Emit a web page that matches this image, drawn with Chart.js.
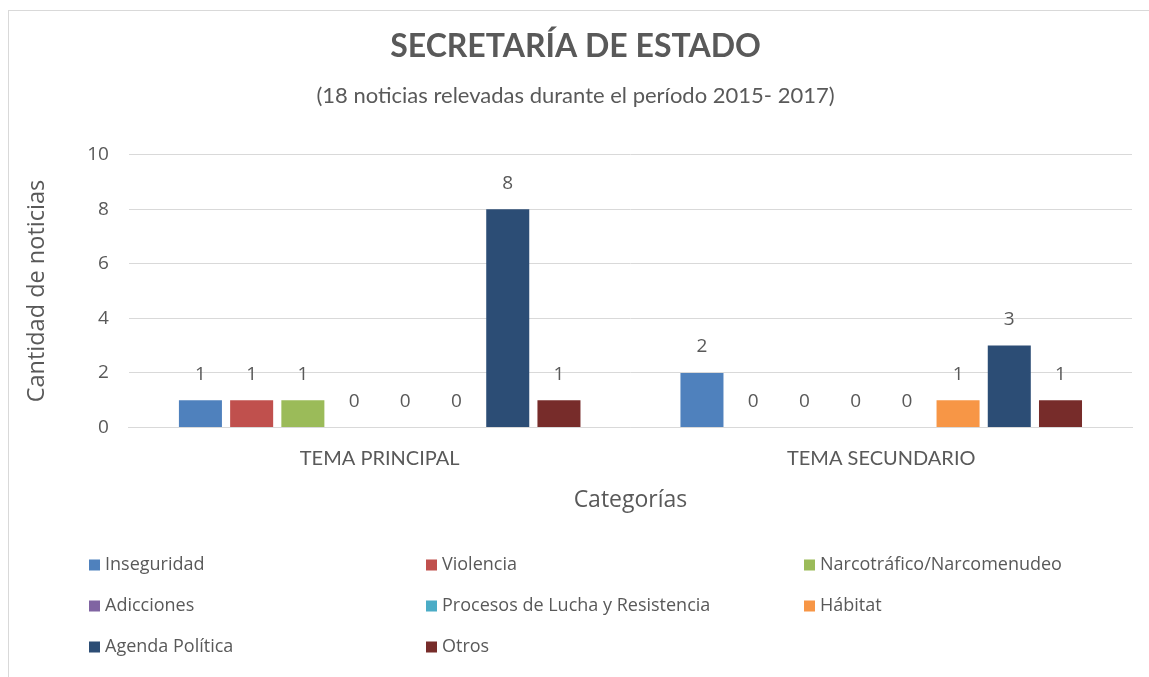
<!DOCTYPE html>
<html>
<head>
<meta charset="utf-8">
<script src="https://cdn.jsdelivr.net/npm/chart.js@4.4.1/dist/chart.umd.min.js"></script>
<style>
  html, body { margin: 0; padding: 0; background: #fff; overflow: hidden; }
  #frame { position: absolute; left: 8px; top: 10px; width: 1300px; height: 900px; border: 1px solid #D9D9D9; box-sizing: border-box; }
  #wrap { position: absolute; left: 0; top: 0; width: 1149px; height: 677px; }
</style>
</head>
<body>
<div id="frame"></div>
<div id="wrap"><canvas id="c" width="1149" height="677"></canvas></div>
<script>
const categories = ["TEMA PRINCIPAL", "TEMA SECUNDARIO"];
const seriesNames = ["Inseguridad", "Violencia", "Narcotráfico/Narcomenudeo", "Adicciones", "Procesos de Lucha y Resistencia", "Hábitat", "Agenda Política", "Otros"];
const inseguridad = [1, 2];
const violencia = [1, 0];
const narcotrafico = [1, 0];
const adicciones = [0, 0];
const procesos = [0, 0];
const habitat = [0, 1];
const agenda = [8, 3];
const otros = [1, 1];
const yTicks = [0, 2, 4, 6, 8, 10];
const titleText = "SECRETARÍA DE ESTADO";
const subtitleText = "(18 noticias relevadas durante el período 2015- 2017)";
const yTitle = "Cantidad de noticias";
const xTitle = "Categorías";

const colors = ["#4F81BD", "#C0504D", "#9BBB59", "#8064A2", "#4BACC6", "#F79646", "#2C4D75", "#772C2A"];
const values = [inseguridad, violencia, narcotrafico, adicciones, procesos, habitat, agenda, otros];
const TEXT = "#595959";
const FONT = "Lato, 'Open Sans', sans-serif";
const FONT2 = "'Open Sans', Lato, sans-serif";

const datasets = seriesNames.map((n, i) => ({
  label: n, data: values[i], backgroundColor: colors[i], borderWidth: 0,
  categoryPercentage: 0.817, barPercentage: 0.84
}));

const valueLabels = {
  id: 'valueLabels',
  afterDatasetsDraw(chart) {
    const ctx = chart.ctx;
    ctx.save();
    ctx.fillStyle = TEXT;
    ctx.font = "19px " + FONT2;
    ctx.textAlign = "center";
    ctx.textBaseline = "middle";
    chart.data.datasets.forEach((ds, di) => {
      const meta = chart.getDatasetMeta(di);
      meta.data.forEach((bar, i) => {
        ctx.fillText(String(ds.data[i]), bar.x, bar.y - 26);
      });
    });
    ctx.restore();
  }
};

const gridLegend = {
  id: 'gridLegend',
  afterDraw(chart) {
    const ctx = chart.ctx;
    const cols = [89, 426, 804];
    const rows = [565, 606, 647];
    ctx.save();
    ctx.font = "18px " + FONT2;
    ctx.textBaseline = "middle";
    ctx.textAlign = "left";
    chart.data.datasets.forEach((ds, i) => {
      const x = cols[i % 3], y = rows[Math.floor(i / 3)];
      ctx.fillStyle = ds.backgroundColor;
      ctx.fillRect(x, y - 5.5, 11, 11);
      ctx.fillStyle = TEXT;
      ctx.fillText(ds.label, x + 16, y);
    });
    ctx.restore();
  }
};

new Chart(document.getElementById('c'), {
  type: 'bar',
  data: { labels: categories, datasets },
  plugins: [valueLabels, gridLegend],
  options: {
    responsive: false,
    animation: false,
    layout: { padding: { left: 19, right: 17, top: 0, bottom: 159 } },
    plugins: {
      legend: { display: false },
      tooltip: { enabled: false },
      title: { display: true, text: titleText, color: TEXT, font: { family: FONT, size: 32, weight: 'bold' }, padding: { top: 27, bottom: 12 } },
      subtitle: { display: true, text: subtitleText, color: TEXT, font: { family: FONT, size: 22 }, padding: { top: 5, bottom: 46 } }
    },
    scales: {
      x: {
        grid: { display: false, drawTicks: false },
        border: { display: true, color: "#D9D9D9" },
        ticks: { color: TEXT, font: { family: FONT, size: 20 }, padding: 19 },
        title: { display: true, text: xTitle, color: TEXT, font: { family: FONT2, size: 23 }, padding: { top: -3, bottom: 4 } }
      },
      y: {
        min: 0, max: 10,
        afterBuildTicks(scale) { scale.ticks = yTicks.map(v => ({ value: v })); },
        grid: { color: "#D9D9D9", drawTicks: false },
        border: { display: false },
        ticks: { color: TEXT, font: { family: FONT2, size: 19 }, padding: 20 },
        title: { display: true, text: yTitle, color: TEXT, font: { family: FONT2, size: 23.5 }, padding: { bottom: 16 } }
      }
    }
  }
});
</script>
</body>
</html>
